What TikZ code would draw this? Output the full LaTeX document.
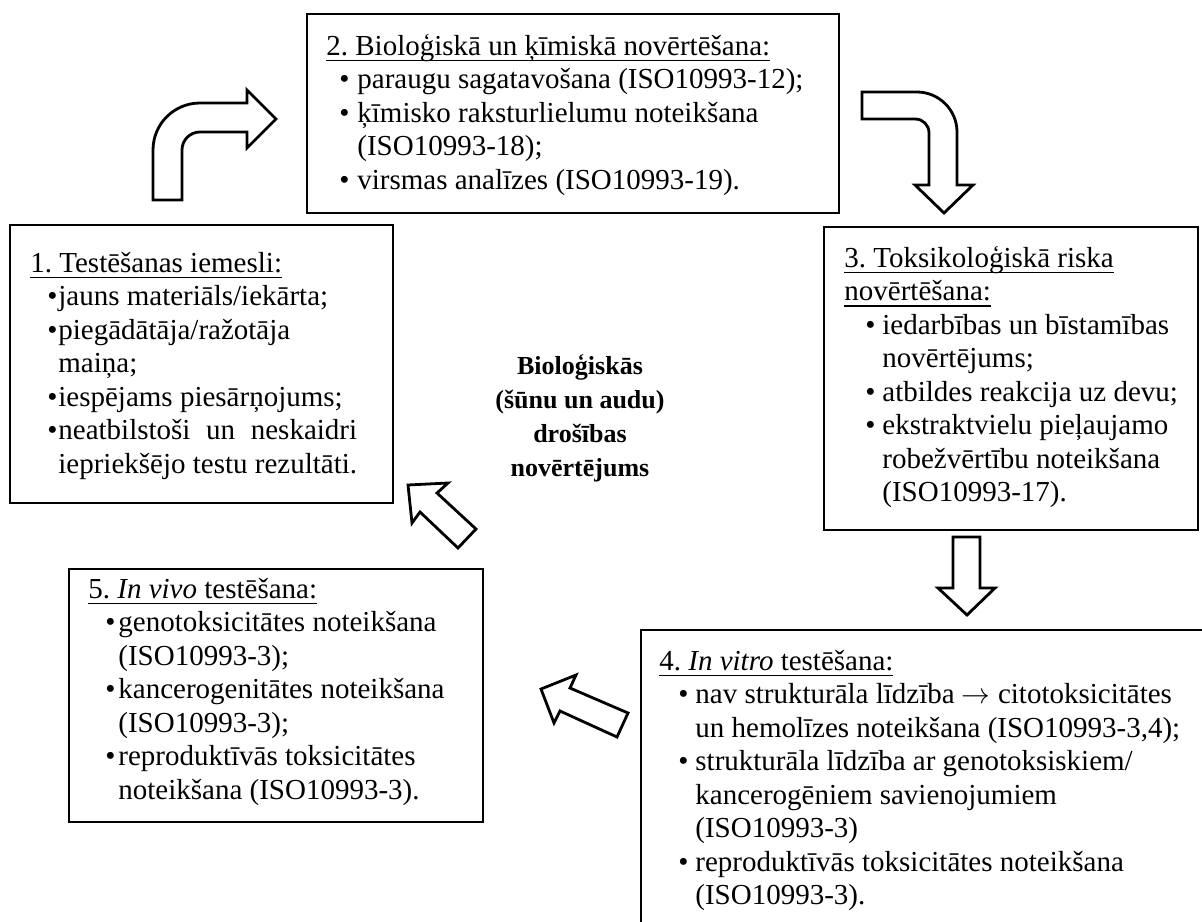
\documentclass[tikz,border=0pt]{standalone}
\usepackage{fontspec}
\setmainfont{Liberation Serif}
\usetikzlibrary{fit}
\frenchspacing
\newcommand\uln[1]{\leavevmode\setbox0=\hbox{#1}\rlap{\rule[-3pt]{\wd0}{0.7pt}}\box0}
\newcommand\bul[2]{\hspace*{#1}\makebox[#2][l]{\textbullet}}
\newlength\jw
\begin{document}
\begin{tikzpicture}[x=0.5pt,y=-0.5pt,
  every node/.style={font=\fontsize{14.5pt}{16.75pt}\selectfont},
  boxst/.style={draw=black, line width=0.75pt, inner sep=0pt},
  txt/.style={anchor=base west, inner sep=0pt},
  barrow/.style={draw=black, line width=1.4pt, fill=white, line join=miter}]
\clip (0,0) rectangle (1202,921);
% boxes
\node[boxst, fit={(307,14) (839,213)}] (b2) {};
\node[boxst, fit={(10,225) (393,503)}] (b1) {};
\node[boxst, fit={(824,227) (1198,530)}] (b3) {};
\node[boxst, fit={(641,630) (1260,1000)}] (b4) {};
\node[boxst, fit={(69,569) (483,822)}] (b5) {};
% texts
\node[txt] (t2) at (326,55) {\parbox[t]{300pt}{\raggedright
\uln{2. Bioloģiskā un ķīmiskā novērtēšana:}\\
\bul{6.5pt}{9pt}paraugu sagatavošana (ISO10993-12);\\
\bul{6.5pt}{9pt}ķīmisko raksturlielumu noteikšana\\
\hspace*{15.5pt}(ISO10993-18);\\
\bul{6.5pt}{9pt}virsmas analīzes (ISO10993-19).}};
\node[txt] (t1) at (30,272) {\parbox[t]{220pt}{\raggedright
\settowidth{\jw}{iepriekšējo testu rezultāti.}%
\uln{1. Testēšanas iemesli:}\\
\bul{8.5pt}{5.5pt}jauns materiāls/iekārta;\\
\bul{8.5pt}{5.5pt}piegādātāja/ražotāja\\
\hspace*{14pt}maiņa;\\
\bul{8.5pt}{5.5pt}iespējams piesārņojums;\\
\bul{8.5pt}{5.5pt}\makebox[\jw][s]{neatbilstoši un neskaidri}\\
\hspace*{14pt}iepriekšējo testu rezultāti.}};
\node[txt] (t3) at (844,267) {\parbox[t]{220pt}{\raggedright
\uln{3. Toksikoloģiskā riska}\\
\uln{novērtēšana:}\\
\bul{10.5pt}{8.5pt}iedarbības un bīstamības\\
\hspace*{19pt}novērtējums;\\
\bul{10.5pt}{8.5pt}atbildes reakcija uz devu;\\
\bul{10.5pt}{8.5pt}ekstraktvielu pieļaujamo\\
\hspace*{19pt}robežvērtību noteikšana\\
\hspace*{19pt}(ISO10993-17).}};
\node[txt] (t4) at (659,670) {\parbox[t]{300pt}{\raggedright
\uln{4. \textit{In vitro} testēšana:}\\
\bul{9.5pt}{8.5pt}nav strukturāla līdzība $\rightarrow$ citotoksicitātes\\
\hspace*{18pt}un hemolīzes noteikšana (ISO10993-3,4);\\
\bul{9.5pt}{8.5pt}strukturāla līdzība ar genotoksiskiem/\\
\hspace*{18pt}kancerogēniem savienojumiem\\
\hspace*{18pt}(ISO10993-3)\\
\bul{9.5pt}{8.5pt}reproduktīvās toksicitātes noteikšana\\
\hspace*{18pt}(ISO10993-3).}};
\node[txt] (t5) at (88,598) {\parbox[t]{220pt}{\raggedright
\uln{5. \textit{In vivo} testēšana:}\\
\bul{8.5pt}{6.5pt}genotoksicitātes noteikšana\\
\hspace*{15pt}(ISO10993-3);\\
\bul{8.5pt}{6.5pt}kancerogenitātes noteikšana\\
\hspace*{15pt}(ISO10993-3);\\
\bul{8.5pt}{6.5pt}reproduktīvās toksicitātes\\
\hspace*{15pt}noteikšana (ISO10993-3).}};
\node[align=center, font=\fontsize{13pt}{17pt}\selectfont\bfseries] (ctr) at (580,418)
  {Bioloģiskās\\(šūnu un audu)\\drošības\\novērtējums};
% block arrows
\draw[barrow] (153,200) -- (153,150) .. controls (153,124) and (174,103) .. (200,103)
  -- (247,103) -- (247,90) -- (276,119) -- (247,148) -- (247,132) -- (200,132)
  .. controls (190,132) and (182,140) .. (182,150) -- (182,200) -- cycle;
\draw[barrow] (862,92) -- (917,92) .. controls (939,92) and (957,110) .. (957,132)
  -- (957,185) -- (973,185) -- (944,213) -- (915,185) -- (929,185) -- (929,133)
  .. controls (929,125) and (923,119) .. (915,119) -- (862,119) -- cycle;
\draw[barrow] (953,537) -- (980,537) -- (980,588) -- (995,588) -- (967,615)
  -- (938,588) -- (953,588) -- cycle;
\draw[barrow] (541,689) -- (576,675) -- (570,688) -- (628,713) -- (617,737)
  -- (560,711) -- (554,723) -- cycle;
\draw[barrow] (408,485) -- (448,483) -- (437,493) -- (476,529) -- (458,548)
  -- (420,512) -- (412,523) -- cycle;
\end{tikzpicture}
\end{document}
